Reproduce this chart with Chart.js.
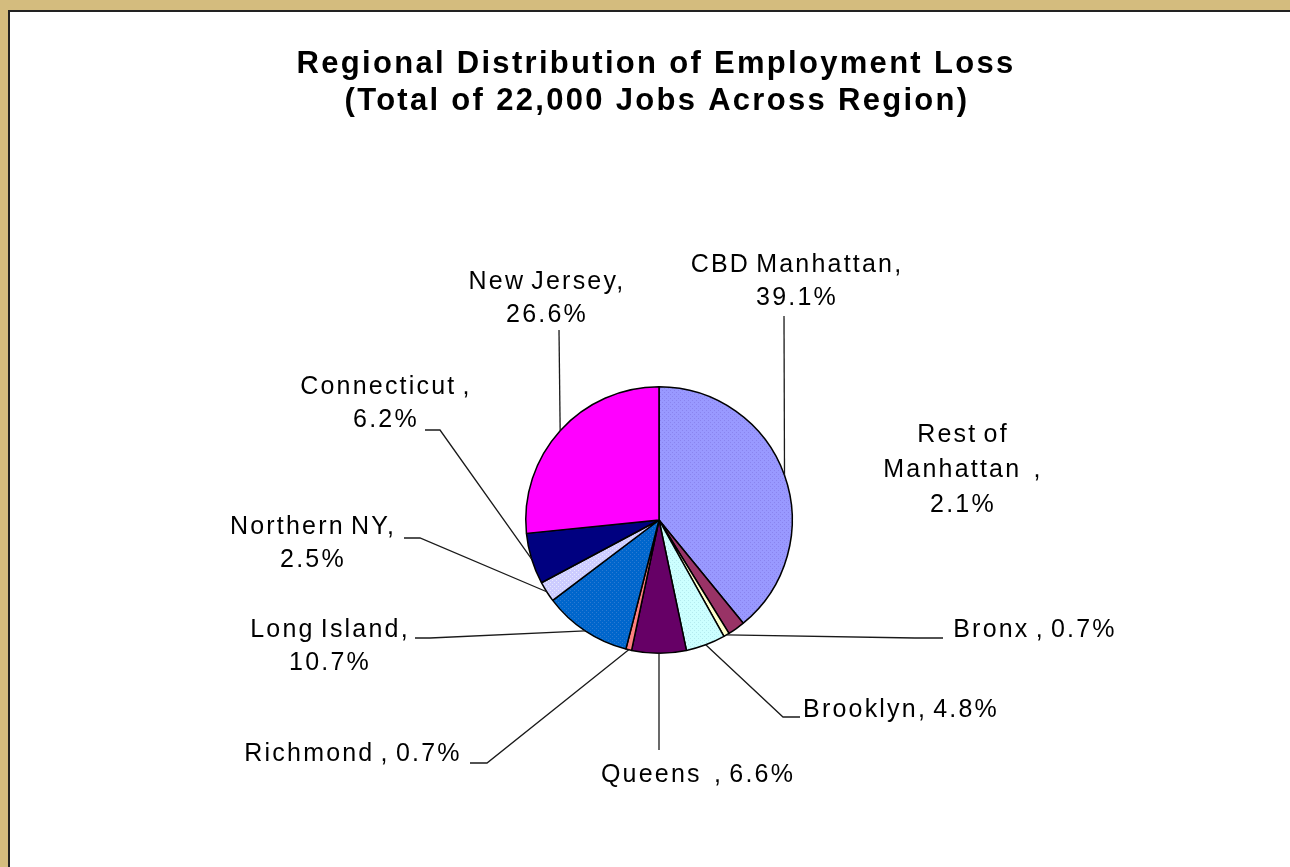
<!DOCTYPE html>
<html>
<head>
<meta charset="utf-8">
<script src="https://cdn.jsdelivr.net/npm/chart.js@4.4.1/dist/chart.umd.min.js"></script>
<style>
  html, body { margin: 0; padding: 0; width: 1290px; height: 867px; overflow: hidden; background: #d4bc7e; }
  .panel { position: absolute; left: 8px; top: 10px; right: 0; bottom: 0; background: #fff; border-left: 2px solid #222; border-top: 2px solid #222; }
  #grafico { position: absolute; left: 0; top: 0; }
</style>
</head>
<body>
<div class="panel"></div>
<canvas id="grafico" width="1290" height="867"></canvas>
<script>
// Dados do gráfico
const regioes = [
  'CBD Manhattan',
  'Rest of Manhattan  ',
  'Bronx ',
  'Brooklyn',
  'Queens  ',
  'Richmond ',
  'Long Island',
  'Northern NY',
  'Connecticut ',
  'New Jersey',
];
const percentuais = [39.1, 2.1, 0.7, 4.8, 6.6, 0.7, 10.7, 2.5, 6.2, 26.6];
const cores = [
  '#9999ff',
  '#993366',
  '#ffffcc',
  '#ccffff',
  '#660066',
  '#ff8080',
  '#0066cc',
  '#ccccff',
  '#000080',
  '#ff00ff',
];
const titulo = [
  'Regional Distribution of Employment Loss',
  '(Total of 22,000 Jobs Across Region)',
];

// Posição dos rótulos (layout) e pontos das linhas guia
const layoutRotulos = [
  { x: 796, y: 272, lh: 33, quebra: 'valor', guia: [[784, 316]] },
  { x: 962, y: 442, lh: 35, quebra: 'resto', guia: null },
  { x: 1034, y: 637, lh: 33, quebra: 'nao', guia: [[943, 638], [915, 638]] },
  { x: 900, y: 717, lh: 33, quebra: 'nao', guia: [[800, 717], [783, 717]] },
  { x: 697, y: 782, lh: 33, quebra: 'nao', guia: [[659, 750]] },
  { x: 352, y: 761, lh: 33, quebra: 'nao', guia: [[470, 763], [487, 763]] },
  { x: 329, y: 637, lh: 33, quebra: 'valor', guia: [[415, 638], [430, 638]] },
  { x: 312, y: 534, lh: 33, quebra: 'valor', guia: [[404, 538], [420, 538]] },
  { x: 385, y: 394, lh: 33, quebra: 'valor', guia: [[425, 430], [440, 430]] },
  { x: 546, y: 289, lh: 33, quebra: 'valor', guia: [[559, 330]] },
];

// Textura pontilhada de algumas fatias
function pontilhado(base, ponto) {
  const c = document.createElement('canvas');
  c.width = 4;
  c.height = 4;
  const g = c.getContext('2d');
  g.fillStyle = base;
  g.fillRect(0, 0, 4, 4);
  g.fillStyle = ponto;
  g.fillRect(0, 0, 1, 1);
  g.fillRect(2, 2, 1, 1);
  return g.createPattern(c, 'repeat');
}

const ctx = document.getElementById('grafico').getContext('2d');
const preenchimentos = cores.slice();
preenchimentos[0] = pontilhado('#9999ff', '#8a84ee');
preenchimentos[3] = pontilhado('#ccffff', '#b4eaee');
preenchimentos[6] = pontilhado('#0066cc', '#2a7ad2');
preenchimentos[7] = pontilhado('#ccccff', '#e8e8ff');

function linhasRotulo(i) {
  const nome = regioes[i];
  const pct = percentuais[i].toFixed(1) + '%';
  const tipo = layoutRotulos[i].quebra;
  if (tipo === 'valor') return [nome + ',', pct];
  if (tipo === 'resto') {
    const partes = nome.split('of ');
    return [partes[0] + 'of', partes[1] + ',', pct];
  }
  return [nome + ', ' + pct];
}

const rotulosPlugin = {
  id: 'rotulos',
  afterDatasetsDraw(chart) {
    const c = chart.ctx;
    const arcos = chart.getDatasetMeta(0).data;
    c.save();
    // linhas guia
    c.strokeStyle = '#1a1a1a';
    c.lineWidth = 1.3;
    arcos.forEach((arco, i) => {
      const guia = layoutRotulos[i].guia;
      if (!guia) return;
      const p = arco.getProps(['x', 'y', 'startAngle', 'endAngle', 'outerRadius'], true);
      const meio = (p.startAngle + p.endAngle) / 2;
      const fx = p.x + Math.cos(meio) * p.outerRadius;
      const fy = p.y + Math.sin(meio) * p.outerRadius;
      c.beginPath();
      c.moveTo(guia[0][0], guia[0][1]);
      for (let k = 1; k < guia.length; k++) c.lineTo(guia[k][0], guia[k][1]);
      c.lineTo(fx, fy);
      c.stroke();
    });
    // textos
    c.fillStyle = '#000';
    c.textAlign = 'center';
    c.textBaseline = 'alphabetic';
    c.font = '25px "Liberation Sans", Arial, sans-serif';
    c.letterSpacing = '2.2px';
    c.wordSpacing = '-3px';
    layoutRotulos.forEach((l, i) => {
      linhasRotulo(i).forEach((txt, k) => {
        c.fillText(txt, l.x + 1, l.y + k * l.lh);
      });
    });
    // título
    c.font = 'bold 31px "Liberation Sans", Arial, sans-serif';
    c.letterSpacing = '2.3px';
    c.wordSpacing = '0px';
    c.fillText(titulo[0], 656, 73);
    c.fillText(titulo[1], 657, 110);
    c.restore();
  },
};

const grafico = new Chart(ctx, {
  type: 'pie',
  data: {
    labels: regioes,
    datasets: [
      {
        data: percentuais,
        backgroundColor: preenchimentos,
        borderColor: '#000',
        borderWidth: 1.5,
      },
    ],
  },
  options: {
    responsive: false,
    animation: false,
    layout: {
      padding: { left: 525, right: 497, top: 386, bottom: 213 },
    },
    plugins: {
      legend: { display: false },
      tooltip: { enabled: false },
    },
  },
  plugins: [rotulosPlugin],
});
</script>
</body>
</html>
